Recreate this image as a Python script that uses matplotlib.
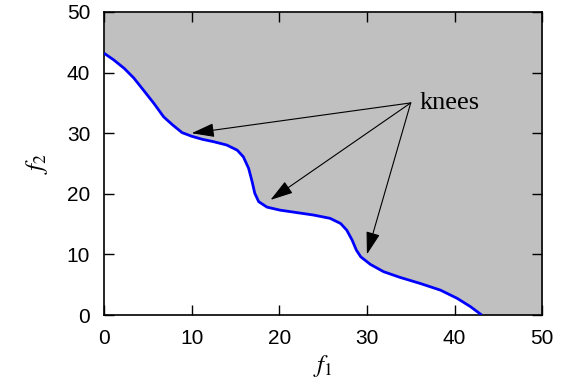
import matplotlib
matplotlib.use("Agg")
import matplotlib.pyplot as plt
from matplotlib.patches import FancyArrowPatch

plt.rcParams["font.family"] = ["Liberation Sans", "DejaVu Sans"]
plt.rcParams["mathtext.fontset"] = "stix"

# Pareto front (f1, f2)
f1 = [0.0, 1.1, 2.3, 3.4, 4.5, 5.7, 6.8, 7.8, 8.9, 10.0, 11.2, 12.5, 14.0,
      15.2, 15.9, 16.5, 16.9, 17.2, 17.65, 18.6, 20.1, 22.0, 23.9, 25.8,
      27.0, 27.7, 28.3, 28.8, 29.3, 30.4, 31.9, 33.8, 36.1, 38.4, 40.3,
      41.8, 43.1]
f2 = [43.2, 42.1, 40.7, 39.1, 37.1, 34.9, 32.7, 31.4, 30.1, 29.5, 29.0,
      28.6, 28.05, 27.2, 26.1, 24.2, 22.0, 20.1, 18.7, 17.8, 17.3, 16.9,
      16.5, 15.95, 15.1, 14.0, 12.4, 10.7, 9.6, 8.35, 7.15, 6.2, 5.2, 4.1,
      2.75, 1.4, 0.0]

# knee points and the label anchor
knee_f1 = [10, 19, 30]
knee_f2 = [30, 19, 10]
label_pos = (35, 35)
label_text = "knees"

ticks = [0, 10, 20, 30, 40, 50]

fig = plt.figure(figsize=(5.78, 3.87), dpi=100)
ax = fig.add_axes([0.180, 0.186, 0.758, 0.783])

# dominated region above the front
fill_x = f1 + [50]
fill_y = f2 + [0]
ax.fill_between(fill_x, fill_y, 50, color="#c0c0c0", linewidth=0, zorder=1)
ax.plot(f1, f2, color="#0000ff", linewidth=2.0, zorder=3,
        solid_joinstyle="round", solid_capstyle="butt")

for kx, ky in zip(knee_f1, knee_f2):
    arr = FancyArrowPatch(label_pos, (kx, ky),
                          arrowstyle="-|>,head_length=14,head_width=4.3",
                          color="black", linewidth=0.8,
                          shrinkA=0, shrinkB=0, mutation_scale=1, zorder=4)
    ax.add_patch(arr)

ax.text(label_pos[0] + 1.0, label_pos[1], label_text, family="Liberation Serif",
        fontsize=19, ha="left", va="center", zorder=5)

ax.set_xlim(0, 50)
ax.set_ylim(0, 50)
ax.set_xticks(ticks)
ax.set_yticks(ticks)
ax.tick_params(direction="in", length=7, width=1, top=True, right=True,
               labelsize=15, pad=10)
for s in ax.spines.values():
    s.set_linewidth(1.2)

ax.set_xlabel(r"$f_1$", fontsize=18, labelpad=4)
ax.set_ylabel(r"$f_2$", fontsize=18, labelpad=12)

fig.savefig("out.png", dpi=100)
